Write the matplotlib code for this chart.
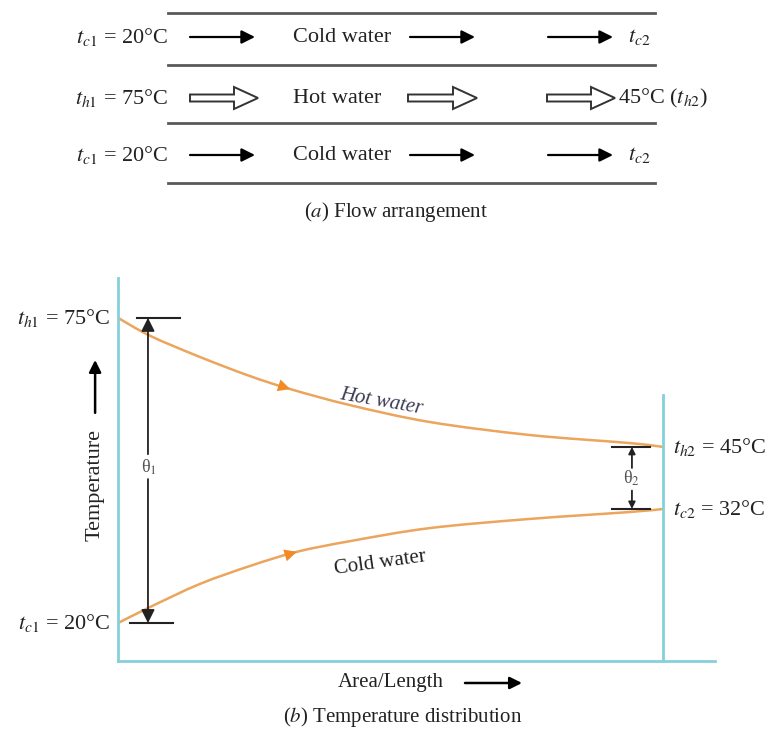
import matplotlib
matplotlib.use("Agg")
import matplotlib.pyplot as plt
from matplotlib.patches import FancyArrow, PathPatch
from matplotlib.path import Path

plt.rcParams['font.family'] = ['Liberation Serif', 'DejaVu Serif']
plt.rcParams['mathtext.fontset'] = 'stix'

# (b) curves: x = fraction of exchanger length, y = height in the sketch (0-100)
length_pts = [0.0, 0.059, 0.150, 0.242, 0.316, 0.426, 0.572, 0.756, 0.939, 1.0]
hot_level = [89.6, 84.9, 79.4, 74.4, 71.0, 66.8, 62.4, 59.0, 56.9, 55.9]
cold_length = [0.0, 0.059, 0.150, 0.242, 0.328, 0.426, 0.572, 0.756, 0.939, 1.0]
cold_level = [9.9, 14.1, 20.1, 24.8, 28.5, 31.3, 34.7, 37.1, 38.9, 39.7]

hot_in, hot_out = "75°C", "45°C"
cold_in, cold_out = "20°C", "32°C"

LINE = '#5a5a5a'
AXC = '#86d0dc'
CURVE = '#eba55c'
HEAD = '#f28a25'
TXT = '#222222'
FS = 16


def smooth_path(xs, ys):
    # Catmull-Rom through the read points, drawn as cubic Bezier segments
    pts = list(zip(xs, ys))
    verts = [pts[0]]
    codes = [Path.MOVETO]
    for i in range(len(pts) - 1):
        p0 = pts[i - 1] if i > 0 else pts[i]
        p1, p2 = pts[i], pts[i + 1]
        p3 = pts[i + 2] if i + 2 < len(pts) else pts[i + 1]
        c1 = (p1[0] + (p2[0] - p0[0]) / 6, p1[1] + (p2[1] - p0[1]) / 6)
        c2 = (p2[0] - (p3[0] - p1[0]) / 6, p2[1] - (p3[1] - p1[1]) / 6)
        verts += [c1, c2, p2]
        codes += [Path.CURVE4] * 3
    return Path(verts, codes)


fig = plt.figure(figsize=(7.75, 7.29), dpi=100)

# ---- (b) temperature distribution ----
W, H = 775, 729
ax = fig.add_axes([118 / W, (H - 661) / H, (715 - 118) / W, (661 - 278) / H])
ax.set_xlim(0, (715 - 118) / 545)
ax.set_ylim(0, 100)
for s in ['top', 'right']:
    ax.spines[s].set_visible(False)
for s in ['left', 'bottom']:
    ax.spines[s].set_color(AXC)
    ax.spines[s].set_linewidth(2)
ax.set_xticks([])
ax.set_yticks([])
ax.patch.set_alpha(0)
ax.plot([1, 1], [0, 69.5], color=AXC, lw=2, clip_on=False)

for xs, ys in [(length_pts, hot_level), (cold_length, cold_level)]:
    ax.add_patch(PathPatch(smooth_path(xs, ys), fc='none', ec=CURVE, lw=1.8))
    ax.annotate('', xy=(xs[4], ys[4]), xytext=(xs[3], ys[3]),
                arrowprops=dict(arrowstyle='-|>', color=HEAD, lw=0,
                                mutation_scale=22, shrinkA=0, shrinkB=0))

ax.text(0.484, 67.6, 'Hot water', rotation=-10, ha='center', va='center',
        fontsize=FS - 1, style='italic', color='#3c3c55')
ax.text(0.481, 25.6, 'Cold water', rotation=8, ha='center', va='center',
        fontsize=FS - 1, color=TXT)

# theta_1
ax.plot([0.035, 0.114], [hot_level[0], hot_level[0]], color=TXT, lw=1.5)
ax.plot([0.022, 0.101], [cold_level[0], cold_level[0]], color=TXT, lw=1.5)
ax.annotate('', xy=(0.055, hot_level[0]), xytext=(0.055, 54.0),
            arrowprops=dict(arrowstyle='-|>', color=TXT, lw=1.3,
                            mutation_scale=20, shrinkA=0, shrinkB=0))
ax.annotate('', xy=(0.055, cold_level[0]), xytext=(0.055, 47.5),
            arrowprops=dict(arrowstyle='-|>', color=TXT, lw=1.3,
                            mutation_scale=20, shrinkA=0, shrinkB=0))
ax.text(0.057, 50.7, 'θ$_1$', ha='center', va='center', fontsize=FS - 3, color='#555555')

# theta_2
ax.plot([0.906, 0.976], [hot_level[-1], hot_level[-1]], color=TXT, lw=1.5)
ax.plot([0.906, 0.976], [cold_level[-1], cold_level[-1]], color=TXT, lw=1.5)
ax.annotate('', xy=(0.943, hot_level[-1]), xytext=(0.943, 50.4),
            arrowprops=dict(arrowstyle='-|>', color=TXT, lw=1.3,
                            mutation_scale=10, shrinkA=0, shrinkB=0))
ax.annotate('', xy=(0.943, cold_level[-1]), xytext=(0.943, 44.5),
            arrowprops=dict(arrowstyle='-|>', color=TXT, lw=1.3,
                            mutation_scale=10, shrinkA=0, shrinkB=0))
ax.text(0.943, 47.6, 'θ$_2$', ha='center', va='center', fontsize=FS - 3, color='#555555')

# end labels
ax.text(-0.015, hot_level[0], r'$t_{h1}$ = ' + hot_in, ha='right', va='center',
        fontsize=FS, color=TXT, clip_on=False)
ax.text(-0.015, cold_level[0], r'$t_{c1}$ = ' + cold_in, ha='right', va='center',
        fontsize=FS, color=TXT, clip_on=False)
ax.text(1.018, hot_level[-1], r'$t_{h2}$ = ' + hot_out, ha='left', va='center',
        fontsize=FS, color=TXT, clip_on=False)
ax.text(1.018, cold_level[-1], r'$t_{c2}$ = ' + cold_out, ha='left', va='center',
        fontsize=FS, color=TXT, clip_on=False)

# axis labels
ax.text(-0.042, 46.0, 'Temperature', rotation=90, ha='center', va='center',
        fontsize=FS, color=TXT)
ax.annotate('', xy=(-0.042, 78.6), xytext=(-0.042, 64.8), annotation_clip=False,
            arrowprops=dict(arrowstyle='-|>', color='black', lw=1.8,
                            mutation_scale=18, shrinkA=0, shrinkB=0))

# ---- overlay in pixel units for part (a) and captions ----
ov = fig.add_axes([0, 0, 1, 1])
ov.set_xlim(0, W)
ov.set_ylim(H, 0)
ov.axis('off')
ov.patch.set_alpha(0)

for y in [13, 65, 123, 183]:
    ov.plot([168, 655], [y, y], color=LINE, lw=2)


def solid_arrow(x0, x1, y):
    ov.annotate('', xy=(x1, y), xytext=(x0, y),
                arrowprops=dict(arrowstyle='-|>', color='black', lw=1.6,
                                mutation_scale=20, shrinkA=0, shrinkB=0))


def hollow_arrow(x0, x1, y):
    ov.add_patch(FancyArrow(x0, y, x1 - x0, 0, width=7, head_width=22,
                            head_length=24, length_includes_head=True,
                            fc='white', ec='#333333', lw=1.4))


rows = [(37, r'$t_{c1}$ = ' + cold_in, 'Cold water', r'$t_{c2}$', False),
        (98, r'$t_{h1}$ = ' + hot_in, 'Hot water', hot_out + r' ($t_{h2}$)', True),
        (155, r'$t_{c1}$ = ' + cold_in, 'Cold water', r'$t_{c2}$', False)]
for y, left, mid, right, hollow in rows:
    ov.text(168, y, left, ha='right', va='center', fontsize=FS, color=TXT)
    ov.text(293, y, mid, ha='left', va='center', fontsize=FS, color=TXT)
    ov.text(618 if hollow else 628, y, right, ha='left', va='center', fontsize=FS, color=TXT)
    if hollow:
        hollow_arrow(190, 258, y)
        hollow_arrow(408, 477, y)
        hollow_arrow(547, 615, y)
    else:
        solid_arrow(190, 255, y)
        solid_arrow(410, 475, y)
        solid_arrow(548, 613, y)

ov.text(396, 212, r'($a$) Flow arrangement', ha='center', va='center', fontsize=FS - 1, color=TXT)

ov.text(391, 683, 'Area/Length', ha='center', va='center', fontsize=FS - 1, color=TXT)
ov.annotate('', xy=(522, 683), xytext=(465, 683),
            arrowprops=dict(arrowstyle='-|>', color='black', lw=1.8,
                            mutation_scale=18, shrinkA=0, shrinkB=0))
ov.text(403, 717, r'($b$) Temperature distribution', ha='center', va='center',
        fontsize=FS - 1, color=TXT)

fig.savefig('out.png', dpi=100)
